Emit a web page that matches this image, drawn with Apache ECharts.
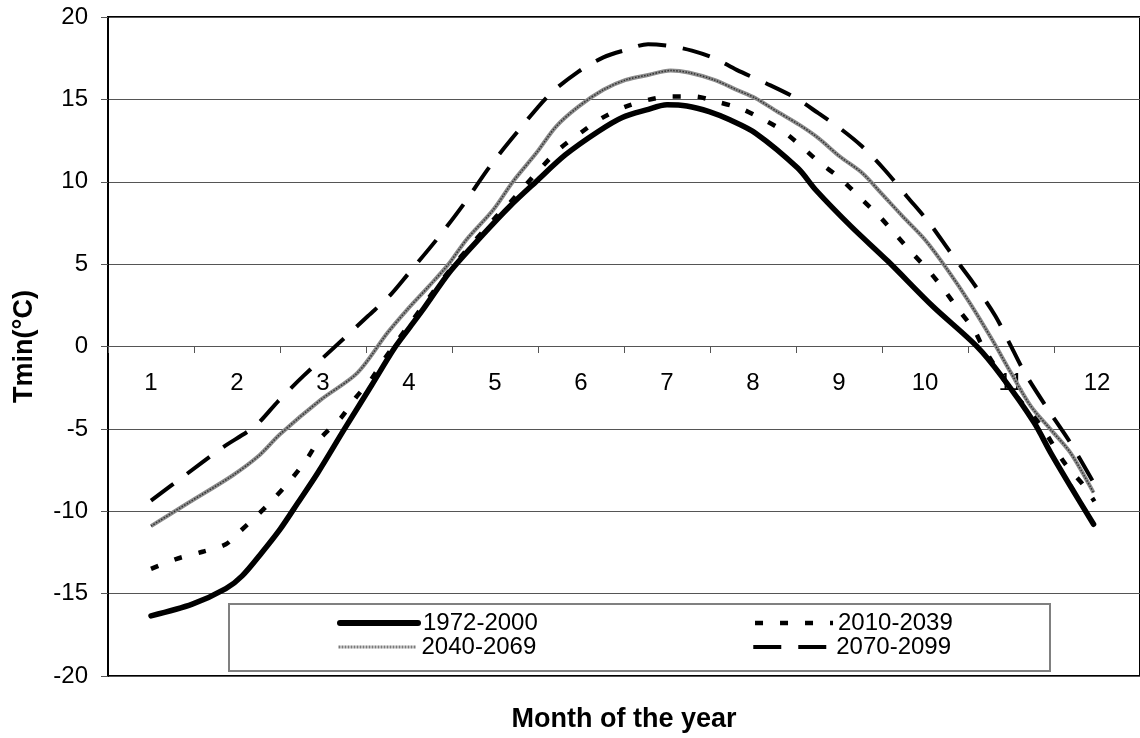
<!DOCTYPE html>
<html>
<head>
<meta charset="utf-8">
<script src="https://cdn.jsdelivr.net/npm/echarts@6/dist/echarts.min.js"></script>
<style>
html,body{margin:0;padding:0;background:#fff;}
#chart{width:1140px;height:738px;}
</style>
</head>
<body>
<div id="chart"></div>
<script>
// Month labels (categories) and series names
var months = ['1','2','3','4','5','6','7','8','9','10','11','12'];
var seriesNames = ['1972-2000','2010-2039','2040-2069','2070-2099'];

// 1972-2000 (month position, Tmin)
var x1972 = [1.0,1.48,1.87,2.06,2.29,2.5,2.71,2.94,3.25,3.56,3.82,4.0,4.17,4.48,4.86,5.17,5.48,5.82,6.2,6.48,6.76,7.0,7.23,7.49,7.73,8.03,8.52,8.73,9.14,9.57,10.09,10.6,10.89,11.27,11.46,11.69,11.96];
var y1972 = [-16.35,-15.64,-14.7,-13.92,-12.5,-11.1,-9.47,-7.66,-5.0,-2.4,-0.18,1.1,2.3,4.57,6.79,8.5,10.02,11.64,13.05,13.9,14.36,14.67,14.6,14.26,13.76,12.95,10.83,9.5,7.29,5.17,2.44,0.02,-1.8,-4.63,-6.44,-8.47,-10.79];

// 2010-2039
var x2010 = [1.0,1.29,1.6,1.87,2.02,2.23,2.44,2.63,2.81,2.96,3.21,3.38,3.56,3.71,4.0,4.5,5.0,5.17,5.36,5.55,5.76,5.99,6.24,6.52,6.78,7.04,7.32,7.57,7.85,8.05,8.3,8.52,8.76,9.01,9.25,9.47,9.66,9.85,10.05,10.22,10.39,10.58,10.66,10.97,11.35,11.62,11.85,11.97];
var y2010 = [-13.5,-12.9,-12.46,-12.0,-11.29,-10.28,-9.17,-8.06,-6.85,-5.64,-4.32,-3.11,-2.0,-0.79,1.3,4.8,7.8,8.71,9.82,10.93,12.04,12.95,13.86,14.56,14.97,15.17,15.17,14.87,14.46,13.96,13.25,12.35,11.23,10.22,9.01,7.9,6.79,5.68,4.56,3.45,2.24,0.93,0.1,-2.4,-4.83,-7.05,-8.47,-9.4];

// 2040-2069
var x2040 = [1.0,1.44,1.94,2.25,2.5,2.98,3.4,3.75,3.98,4.23,4.46,4.67,4.98,5.21,5.48,5.71,5.97,6.26,6.52,6.78,7.04,7.25,7.55,7.81,8.03,8.28,8.54,8.76,9.01,9.27,9.49,9.74,10.0,10.26,10.52,10.78,11.0,11.23,11.46,11.69,11.96];
var y2040 = [-10.9,-9.47,-7.86,-6.65,-5.33,-3.21,-1.6,0.83,2.24,3.65,5.0,6.5,8.3,10.02,11.74,13.35,14.56,15.58,16.18,16.48,16.75,16.63,16.18,15.58,15.07,14.26,13.45,12.65,11.53,10.53,9.31,7.9,6.48,4.67,2.65,0.42,-1.6,-3.62,-5.03,-6.44,-8.87];

// 2070-2099
var x2070 = [1.0,1.41,1.83,2.21,2.48,2.77,3.23,3.52,3.77,4.0,4.32,4.63,4.94,5.28,5.63,5.97,6.26,6.52,6.78,7.04,7.29,7.55,7.81,8.15,8.5,8.76,9.01,9.27,9.53,9.79,10.05,10.3,10.56,10.82,11.0,11.16,11.43,11.69,11.96];
var y2070 = [-9.35,-7.76,-6.14,-4.83,-3.31,-1.8,0.42,1.84,3.05,4.47,6.48,8.6,10.93,13.15,15.27,16.69,17.55,18.0,18.35,18.24,17.96,17.5,16.79,15.98,15.07,14.16,13.25,12.14,10.73,9.11,7.5,5.68,3.86,1.84,0.02,-1.6,-3.82,-5.84,-8.26];

function pairs(xs, ys){ return xs.map(function(x,i){ return [x, ys[i]]; }); }

var FONT = 'Liberation Sans, Arial, sans-serif';
var chart = echarts.init(document.getElementById('chart'), null, {renderer:'canvas'});

var GRID_TOP = 17, GRID_H = 660;
// offset that moves the labelled category axis up to the y=0 line
var zeroOffset = -GRID_H / 2;

var styles = {
  s1972: { color: '#000', width: 5.5, cap: 'round' },
  s2010: { color: '#000', width: 4.5, type: [8, 17] },
  s2040: { color: '#8c8c8c', width: 4 },
  s2070: { color: '#000', width: 4, type: [28, 17] }
};

var legendText = { fontSize: 24, color: '#000', fontFamily: FONT };
function legendItem(name, ls){
  return { name: name, itemStyle: { opacity: 0 }, lineStyle: ls };
}

var option = {
  animation: false,
  backgroundColor: '#fff',
  grid: { left: 108, top: GRID_TOP, width: 1042, height: GRID_H, show: true, borderColor: '#000', borderWidth: 2, backgroundColor: 'transparent' },
  xAxis: [
    {
      type: 'category', data: months, boundaryGap: true, position: 'bottom', offset: zeroOffset,
      axisLine: { show: true, onZero: false, lineStyle: { color: '#555', width: 1 } },
      axisTick: { show: true, length: 7, lineStyle: { color: '#555', width: 1 } },
      axisLabel: { fontSize: 24, color: '#000', fontFamily: FONT, margin: 25, interval: 0 },
      splitLine: { show: false }
    },
    {
      type: 'value', min: 0.5, max: 12.5, position: 'bottom',
      axisLine: { show: false, onZero: false }, axisTick: { show: false }, axisLabel: { show: false }, splitLine: { show: false },
      name: 'Month of the year', nameLocation: 'middle', nameGap: 30,
      nameTextStyle: { fontSize: 27, fontWeight: 'bold', color: '#000', fontFamily: FONT }
    }
  ],
  yAxis: {
    type: 'value', min: -20, max: 20, interval: 5,
    axisLine: { show: true, onZero: false, lineStyle: { color: '#000', width: 2 } },
    axisTick: { show: true, length: 7, lineStyle: { color: '#555', width: 1 } },
    axisLabel: { fontSize: 24, color: '#000', fontFamily: FONT, margin: 20 },
    splitLine: { show: true, lineStyle: { color: '#555', width: 1 } },
    name: 'Tmin(°C)', nameLocation: 'middle', nameRotate: 90, nameGap: 70,
    nameTextStyle: { fontSize: 27, fontWeight: 'bold', color: '#000', fontFamily: FONT }
  },
  legend: [
    {
      data: [legendItem(seriesNames[0], { color: '#000', width: 6, cap: 'round' }), legendItem(seriesNames[1], { color: '#000', width: 4.5, type: [8, 17] })],
      left: 337, top: 611, padding: 0,
      itemWidth: 78, itemHeight: 14, itemGap: 215, orient: 'horizontal',
      textStyle: legendText, selectedMode: false, z: 20
    },
    {
      data: [legendItem(seriesNames[2], { color: '#7a7a7a', width: 3, type: [2, 1] }), legendItem(seriesNames[3], { color: '#000', width: 4, type: [28, 17] })],
      left: 337, top: 635, padding: 0,
      itemWidth: 78, itemHeight: 14, itemGap: 215, orient: 'horizontal',
      textStyle: legendText, selectedMode: false, z: 20
    }
  ],
  graphic: [
    { type: 'rect', z: 10, shape: { x: 229, y: 604, width: 821, height: 67 },
      style: { fill: '#fff', stroke: '#808080', lineWidth: 2 } }
  ],
  series: [
    { name: seriesNames[2], type: 'line', xAxisIndex: 1, data: pairs(x2040, y2040), symbol: 'none', smooth: 0.3, z: 3,
      itemStyle: { color: '#8c8c8c' }, lineStyle: styles.s2040 },
    { name: 'texture', type: 'line', xAxisIndex: 1, data: pairs(x2040, y2040), symbol: 'none', smooth: 0.3, z: 3, silent: true,
      itemStyle: { color: '#333' }, lineStyle: { color: '#333', width: 1.5, type: [1.5, 1.5] } },
    { name: seriesNames[1], type: 'line', xAxisIndex: 1, data: pairs(x2010, y2010), symbol: 'none', smooth: 0.3, z: 4,
      itemStyle: { color: '#000' }, lineStyle: styles.s2010 },
    { name: seriesNames[3], type: 'line', xAxisIndex: 1, data: pairs(x2070, y2070), symbol: 'none', smooth: 0.3, z: 4,
      itemStyle: { color: '#000' }, lineStyle: styles.s2070 },
    { name: seriesNames[0], type: 'line', xAxisIndex: 1, data: pairs(x1972, y1972), symbol: 'none', smooth: 0.3, z: 5,
      itemStyle: { color: '#000' }, lineStyle: styles.s1972 }
  ]
};
chart.setOption(option);
</script>
</body>
</html>
